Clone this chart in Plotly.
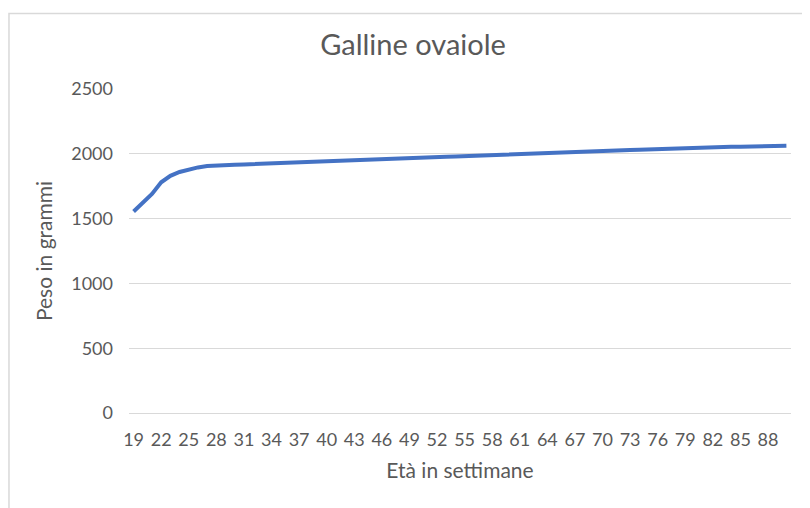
import plotly.graph_objects as go

# eta' in settimane
settimane = list(range(19, 91))

# peso medio in grammi
peso = [
    1555, 1625, 1690, 1780, 1830, 1860, 1880, 1895, 1905, 1911,
    1913, 1916, 1918, 1921, 1923, 1926, 1929, 1931, 1934, 1937,
    1940, 1942, 1945, 1947, 1950, 1953, 1956, 1958, 1961, 1964,
    1966, 1969, 1971, 1974, 1977, 1979, 1982, 1984, 1987, 1990,
    1992, 1995, 1997, 2000, 2002, 2005, 2008, 2011, 2013, 2016,
    2018, 2021, 2023, 2026, 2029, 2031, 2034, 2037, 2039, 2042,
    2044, 2047, 2050, 2053, 2055, 2055, 2055, 2055, 2055, 2056,
    2058, 2062,
]

font = "Lato, 'Open Sans', sans-serif"
grigio = "#595959"

fig = go.Figure()

fig.add_trace(
    go.Scatter(
        x=settimane,
        y=peso,
        mode="lines",
        line={"color": "#4472C4", "width": 4},
        hoverinfo="x+y",
    )
)

# bordo dell'area del grafico (la pagina ha 8px di margine)
fig.add_shape(
    type="rect",
    xref="paper",
    yref="paper",
    x0=-0.1813,
    x1=1.04,
    y0=-0.35,
    y1=1.2330,
    line={"color": "#D9D9D9", "width": 1.5},
    layer="below",
)

fig.update_layout(
    width=810,
    height=508,
    margin={"l": 121, "r": 27, "t": 81, "b": 103},
    paper_bgcolor="white",
    plot_bgcolor="white",
    showlegend=False,
    font={"family": font, "color": grigio, "size": 18},
    title={
        "text": "Galline ovaiole",
        "x": 0.5,
        "xanchor": "center",
        "y": 0.927,
        "yanchor": "middle",
        "font": {"size": 29, "color": grigio, "family": font},
    },
    xaxis={
        "range": [18.5, 90.5],
        "tickmode": "linear",
        "tick0": 19,
        "dtick": 3,
        "showgrid": False,
        "zeroline": False,
        "showline": False,
        "ticks": "",
        "ticklabelstandoff": 14,
        "tickfont": {"size": 18, "color": grigio},
        "title": {"text": "Età in settimane", "font": {"size": 21, "color": grigio}, "standoff": 14},
    },
    yaxis={
        "range": [0, 2500],
        "dtick": 500,
        "showgrid": True,
        "gridcolor": "#D9D9D9",
        "gridwidth": 1,
        "zeroline": True,
        "zerolinecolor": "#D9D9D9",
        "zerolinewidth": 1,
        "showline": False,
        "ticks": "",
        "ticklabelstandoff": 15,
        "tickfont": {"size": 18, "color": grigio},
        "title": {"text": "Peso in grammi", "font": {"size": 21, "color": grigio}, "standoff": 12},
    },
)

fig.write_html("out.html")
